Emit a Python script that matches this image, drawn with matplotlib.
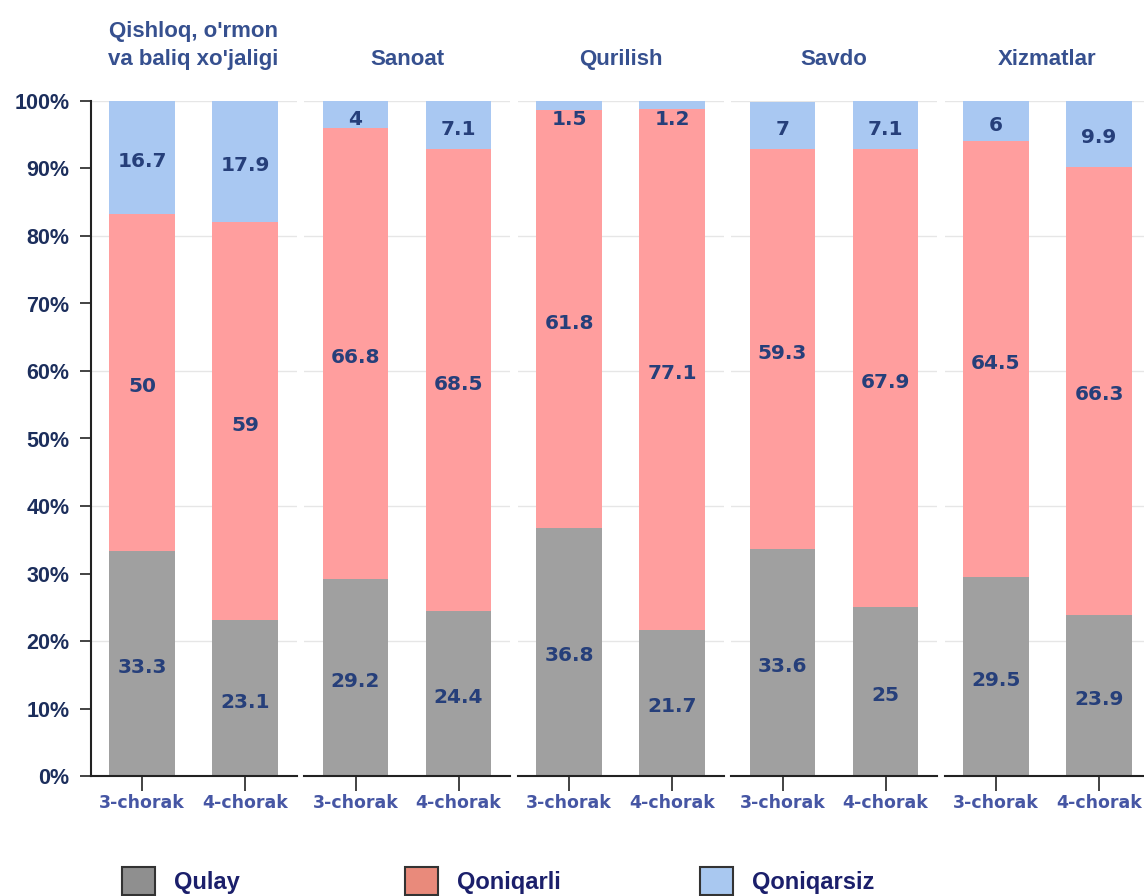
import matplotlib
matplotlib.use("Agg")
import matplotlib.pyplot as plt
from matplotlib.patches import Patch
import numpy as np

# --- data ---
sectors = ["Qishloq, o'rmon\nva baliq xo'jaligi", "Sanoat", "Qurilish", "Savdo", "Xizmatlar"]
quarters = ["3-chorak", "4-chorak"]
qulay = [[33.3, 23.1], [29.2, 24.4], [36.8, 21.7], [33.6, 25], [29.5, 23.9]]
qoniqarli = [[50, 59], [66.8, 68.5], [61.8, 77.1], [59.3, 67.9], [64.5, 66.3]]
qoniqarsiz = [[16.7, 17.9], [4, 7.1], [1.5, 1.2], [7, 7.1], [6, 9.9]]
series_names = ["Qulay", "Qoniqarli", "Qoniqarsiz"]

bar_colors = ["#a0a0a0", "#ff9e9e", "#a9c8f2"]
legend_colors = ["#8f8f8f", "#e98a7b", "#a9c8f0"]
title_color = "#36508f"
ytick_color = "#1c2e5c"
xtick_color = "#4656a4"
value_color = "#263f7a"
legend_text_color = "#1b1f6b"

fig = plt.figure(figsize=(11.44, 8.96), dpi=100)

left0 = 90.5 / 1144
width = 206 / 1144
step = 213.5 / 1144
bottom = 1 - 776 / 896
height = (776 - 101) / 896

x = np.arange(len(quarters))
bar_w = 0.64

for i, name in enumerate(sectors):
    ax = fig.add_axes([left0 + i * step, bottom, width, height])
    q1 = np.array(qulay[i], dtype=float)
    q2 = np.array(qoniqarli[i], dtype=float)
    q3 = np.array(qoniqarsiz[i], dtype=float)

    ax.bar(x, q1, bar_w, color=bar_colors[0], zorder=2)
    ax.bar(x, q2, bar_w, bottom=q1, color=bar_colors[1], zorder=2)
    ax.bar(x, q3, bar_w, bottom=q1 + q2, color=bar_colors[2], zorder=2)

    # value labels
    for j in range(len(x)):
        segs = [(0, q1[j]), (q1[j], q2[j]), (q1[j] + q2[j], q3[j])]
        for k, (b, h) in enumerate(segs):
            yy = b + h / 2 - 0.6
            if k == 2:
                yy = min(yy, 97.2)
            ax.text(x[j], yy, f"{h:g}", ha="center", va="center",
                    fontsize=14.5, fontweight="bold", color=value_color,
                    family="DejaVu Sans", zorder=3)

    ax.set_xlim(-0.5, 1.5)
    ax.set_ylim(0, 100)
    ax.set_yticks(np.arange(0, 101, 10))
    for gy in range(20, 101, 20):
        ax.axhline(gy, color="#e6e6e6", linewidth=1.0, zorder=0)

    ax.set_xticks(x)
    ax.set_xticklabels(quarters, fontsize=12.5, fontweight="bold",
                       color=xtick_color, family="DejaVu Sans")
    ax.tick_params(axis="x", direction="out", length=11, width=1.2, pad=2,
                   color="#222222")

    for s in ["top", "right"]:
        ax.spines[s].set_visible(False)
    ax.spines["bottom"].set_linewidth(1.5)
    ax.spines["bottom"].set_color("#222222")

    if i == 0:
        ax.set_yticklabels([f"{v}%" for v in range(0, 101, 10)], fontsize=15.5,
                           fontweight="bold", color=ytick_color,
                           family="Liberation Sans")
        ax.tick_params(axis="y", direction="out", length=8, width=1.2, pad=7,
                       color="#222222")
        ax.spines["left"].set_linewidth(1.5)
        ax.spines["left"].set_color("#222222")
    else:
        ax.spines["left"].set_visible(False)
        ax.tick_params(axis="y", left=False, labelleft=False)

    ax.set_title(name, fontsize=16, fontweight="bold", color=title_color,
                 family="Liberation Sans", pad=26, linespacing=1.4)

# legend: one entry per box, placed like the reference
legend_x = [122, 405, 700]
for c, lab, lx in zip(legend_colors, series_names, legend_x):
    h = Patch(facecolor=c, edgecolor="#333333", linewidth=1.5)
    leg = fig.legend([h], [lab], loc="center left",
                     bbox_to_anchor=(lx / 1144, 1 - 881 / 896), frameon=False,
                     borderpad=0, borderaxespad=0, handlelength=1.4,
                     handleheight=1.45, handletextpad=0.8,
                     prop={"family": "Liberation Sans", "weight": "bold", "size": 17},
                     labelcolor=legend_text_color)

fig.savefig("out.png", dpi=100)
